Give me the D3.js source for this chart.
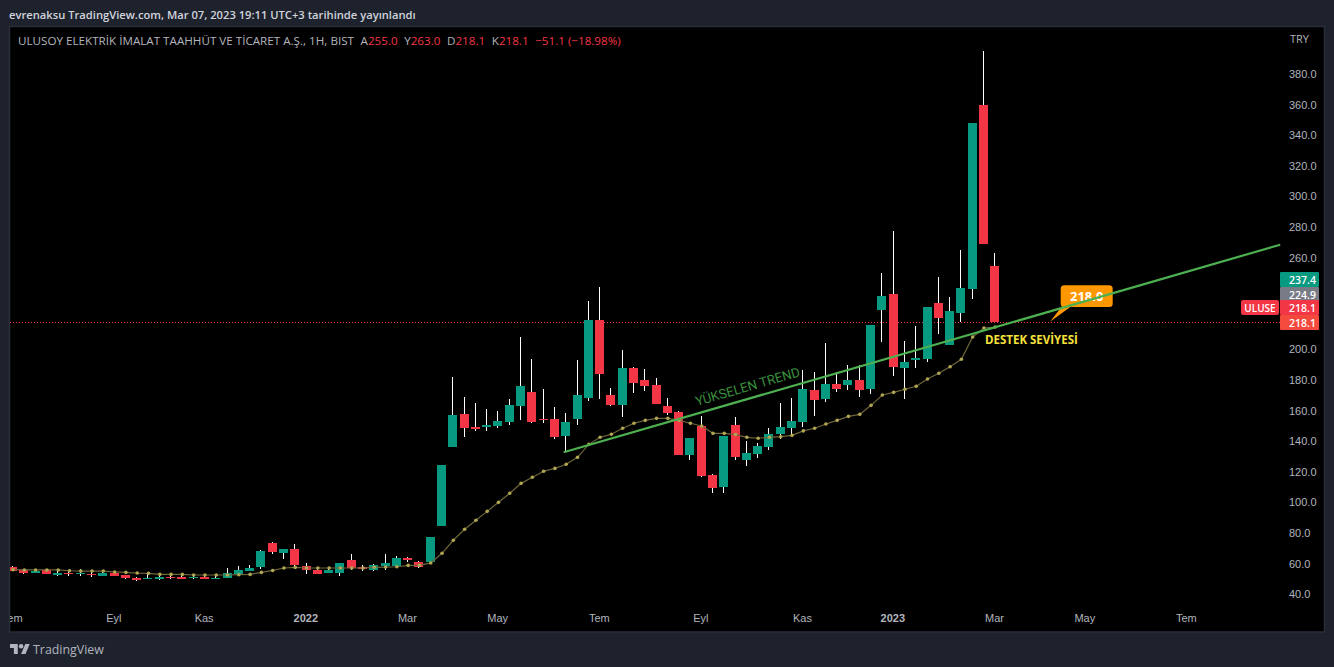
<!DOCTYPE html>
<html lang="tr">
<head>
<meta charset="utf-8">
<title>ULUSOY ELEKTRİK haftalık grafik</title>
<script src="https://cdn.jsdelivr.net/npm/d3@7/dist/d3.min.js"></script>
<style>
  html, body { margin: 0; padding: 0; background: #1e222d; overflow: hidden; }
  svg { display: block; font-family: "Open Sans", "Noto Sans", sans-serif; }
  .tick line, .domain { display: none; }
</style>
</head>
<body>
<div id="chart"></div>
<script>
// Weekly candles, oldest first
const opens = [57.8,56.3,54.1,56.3,52.8,54.1,53.4,53.4,52.1,54.1,52.8,50.8,50.2,50.2,51.5,51.5,50.8,51.5,50.2,50.8,53.4,55.4,58.0,73.7,67.2,69.8,58.7,56.1,54.1,54.1,62.6,58.0,56.1,58.7,58.7,63.9,61.3,61.3,84.8,136.5,158.1,149.6,149.6,150.2,152.8,163.3,172.4,154.8,154.8,143.7,154.8,168.5,219.5,170.5,164.0,188.1,180.3,177.0,163.3,159.4,131.3,150.2,118.2,110.3,150.9,128.0,131.9,136.5,145.0,148.9,152.8,173.8,167.9,177.7,177.0,180.3,174.4,226.1,236.5,188.1,193.4,194.0,230.6,203.2,224.1,239.7,360.0,255.0];
const highs = [58.7,56.7,55.6,56.5,56.1,56.1,56.7,56.1,54.5,54.8,52.8,51.5,54.8,53.4,53.4,53.4,52.8,53.4,52.8,57.4,58.7,59.3,69.1,74.4,69.8,73.1,60.6,57.4,58.0,60.6,66.5,59.3,60.0,66.5,65.2,64.6,61.9,77.6,124.7,182.3,169.2,165.3,161.3,160.0,167.9,208.4,194.0,174.4,162.6,158.7,193.4,231.9,241.1,175.1,199.9,188.8,187.5,181.6,168.5,160.0,142.4,156.8,118.8,143.7,156.1,140.4,139.1,148.9,165.3,168.5,186.8,185.5,204.5,185.5,190.1,190.1,216.2,250.2,277.6,205.8,215.6,228.0,247.6,234.6,265.2,348.2,395.3,263.0];
const lows = [55.4,53.4,54.0,53.4,52.1,52.1,52.1,51.5,52.1,52.1,50.2,48.9,50.2,49.5,50.2,50.2,50.2,50.2,50.2,50.8,52.1,55.4,56.7,66.5,63.3,56.7,53.4,53.4,54.1,52.1,56.1,55.4,55.4,56.1,57.4,61.3,57.4,60.0,84.8,136.5,143.0,147.0,147.0,148.9,150.9,154.1,152.2,152.2,141.7,133.2,150.9,166.6,167.9,163.3,156.1,171.8,173.1,164.6,157.4,131.3,128.0,116.9,106.4,106.4,128.0,124.1,129.3,134.5,141.7,143.7,149.6,156.8,165.9,172.4,173.8,169.2,171.1,205.1,182.9,167.9,188.1,192.1,210.4,203.2,218.0,233.2,269.2,218.1];
const closes = [55.4,54.1,55.4,53.4,54.1,53.4,54.1,52.8,54.1,52.1,50.8,49.7,50.8,51.5,50.8,50.2,51.5,50.2,50.8,54.1,56.1,57.4,68.5,67.8,69.8,59.3,56.1,53.4,56.1,60.6,57.4,56.7,59.3,60.6,63.9,62.6,58.0,77.6,124.7,157.4,148.9,148.3,150.9,153.5,164.0,176.4,152.8,154.1,143.0,152.8,170.5,219.5,184.2,164.0,188.1,178.3,176.4,164.6,158.7,131.3,142.4,117.5,109.7,143.7,130.0,132.6,137.1,145.0,149.6,153.5,174.4,167.2,177.7,174.4,180.3,173.8,216.2,235.2,188.8,192.1,194.7,228.0,220.8,225.4,240.4,348.2,269.2,218.1];

// Moving average drawn over the candles
const movingAverage = [56.3,56.1,56.1,56.1,56.1,55.6,55.4,55.4,55.4,54.8,54.5,54.1,53.9,53.2,53.2,53.2,52.8,52.8,52.8,52.8,53.0,53.2,54.5,55.8,57.4,57.8,57.4,57.4,57.4,57.4,57.4,57.4,57.8,58.0,58.2,59.1,59.1,60.7,67.0,75.5,82.7,88.6,94.4,100.3,106.2,112.7,116.7,120.6,122.5,125.2,129.7,138.2,142.8,144.8,148.7,152.0,153.9,155.2,155.2,153.9,152.0,150.2,145.4,145.4,144.6,142.8,142.2,142.8,143.2,144.1,147.0,148.7,151.5,153.9,156.5,157.8,163.7,170.5,172.2,174.2,176.2,180.9,184.7,188.9,193.8,208.4,214.2,214.9];

// Axis ticks
const priceTicks = [40,60,80,100,120,140,160,180,200,220,240,260,280,300,320,340,360,380];
const timeTickBars = [0,9,17,26,35,43,52,61,70,78,87,95,104];
const timeTickLabels = ["Tem","Eyl","Kas","2022","Mar","May","Tem","Eyl","Kas","2023","Mar","May","Tem"];
const yearLabels = ["2022","2023"];

// Drawing tools: trend line endpoints as [bar, price], and the price callout
const trendBars = [48.9, 112.2];
const trendPrices = [133.2, 268.5];
const lastPrice = 218.1;
const calloutBar = 91.9;
const calloutPrice = 218.0;

// Price tags stacked on the right scale
const tagTexts = ["237.4","224.9","218.1","218.1"];
const tagColors = ["#089981","#787b86","#f23645","#f44a3e"];

const W = 1334, H = 667;
const UP = "#089981", DOWN = "#f23645";
const AXIS_TEXT = "#b2b5be";

const x = d3.scaleLinear().domain([0, 100]).range([12.52, 1141.52]);
const y = d3.scaleLinear().domain([40, 380]).range([594.6, 74.4]);

const svg = d3.select("#chart").append("svg").attr("width", W).attr("height", H);

svg.append("defs").append("clipPath").attr("id", "plotClip")
  .append("rect").attr("x", 10).attr("y", 27).attr("width", 1314).attr("height", 605);

// Panel and border
svg.append("rect").attr("width", W).attr("height", H).attr("fill", "#1e222d");
svg.append("rect").attr("x", 9.5).attr("y", 26.5).attr("width", 1315).attr("height", 605.5)
  .attr("fill", "#000").attr("stroke", "#2a2e39").attr("stroke-width", 1.5);

// Header and footer
svg.append("text").attr("x", 9).attr("y", 19).attr("fill", "#d1d4dc")
  .attr("font-size", 11.2).attr("font-weight", 600)
  .text("evrenaksu TradingView.com, Mar 07, 2023 19:11 UTC+3 tarihinde yayınlandı");

const logo = svg.append("g").attr("transform", "translate(10,641.8) scale(0.555)").attr("fill", "#b2b5be");
logo.append("path").attr("d", "M14 22H7V11H0V4h14v18zM28 22h-8l7.5-18h8L28 22z");
logo.append("circle").attr("cx", 20).attr("cy", 8).attr("r", 4);
svg.append("text").attr("x", 33).attr("y", 654).attr("fill", "#b2b5be")
  .attr("font-size", 12.4).text("TradingView");

const plot = svg.append("g").attr("clip-path", "url(#plotClip)");

// Last price level
plot.append("line")
  .attr("x1", 10).attr("x2", 1280)
  .attr("y1", Math.round(y(lastPrice)) + 0.5).attr("y2", Math.round(y(lastPrice)) + 0.5)
  .attr("stroke", DOWN).attr("stroke-width", 1).attr("stroke-dasharray", "1 2");

// Candles
const bars = d3.range(opens.length);
const barX = k => Math.floor(x(k));
plot.append("g").attr("shape-rendering", "crispEdges").selectAll("rect")
  .data(bars).join("rect")
  .attr("x", barX).attr("width", 1)
  .attr("y", k => y(highs[k]))
  .attr("height", k => y(lows[k]) - y(highs[k]))
  .attr("fill", "#fff");
plot.append("g").attr("shape-rendering", "crispEdges").selectAll("rect")
  .data(bars).join("rect")
  .attr("x", k => barX(k) - 4).attr("width", 9)
  .attr("y", k => y(Math.max(opens[k], closes[k])))
  .attr("height", k => Math.max(1, Math.abs(y(opens[k]) - y(closes[k]))))
  .attr("fill", k => closes[k] >= opens[k] ? UP : DOWN);

// Moving average with a marker on every bar
const maLine = d3.line().x(k => x(k) + 0.5).y(k => y(movingAverage[k]));
plot.append("path").attr("d", maLine(bars)).attr("fill", "none")
  .attr("stroke", "#6e6538").attr("stroke-width", 1.2);
plot.append("g").selectAll("circle").data(bars).join("circle")
  .attr("cx", k => x(k) + 0.5).attr("cy", k => y(movingAverage[k])).attr("r", 1.8)
  .attr("fill", "#b0a552");

// Callout with its pointer, kept under the trend line
const cx0 = 1060.7, cy0 = 285.3, cw = 52, ch = 21.7;
const tip = [x(calloutBar), y(calloutPrice) - 0.5];
plot.append("path").attr("fill", "#ff9800")
  .attr("d", `M${cx0 + 1.5},${cy0 + ch - 1}L${tip[0]},${tip[1]}L${cx0 + 11},${cy0 + ch - 1}Z`);
plot.append("rect").attr("x", cx0).attr("y", cy0).attr("width", cw).attr("height", ch).attr("rx", 3.5)
  .attr("fill", "#ff9800");
plot.append("text").attr("x", cx0 + cw / 2).attr("y", cy0 + 15.5).attr("text-anchor", "middle")
  .attr("fill", "#fff").attr("font-size", 13).attr("font-weight", 700)
  .text(calloutPrice.toFixed(1));

// Trend line
plot.append("line")
  .attr("x1", x(trendBars[0])).attr("y1", y(trendPrices[0]))
  .attr("x2", x(trendBars[1])).attr("y2", y(trendPrices[1]))
  .attr("stroke", "#4caf50").attr("stroke-width", 2.2).attr("stroke-linecap", "round");

// Annotations
const trendAngle = Math.atan2(y(trendPrices[1]) - y(trendPrices[0]), x(trendBars[1]) - x(trendBars[0])) * 180 / Math.PI;
plot.append("text").attr("text-anchor", "middle")
  .attr("transform", `translate(749,391) rotate(${trendAngle})`)
  .attr("fill", "#388e3c").attr("font-family", "Roboto").attr("font-size", 13.2).text("YÜKSELEN TREND");
plot.append("text").attr("x", 985).attr("y", 344).attr("fill", "#f7e23b")
  .attr("font-size", 11.5).attr("font-weight", 700).text("DESTEK SEVİYESİ");

// Legend line
const legend = plot.append("text").attr("x", 18).attr("y", 45).attr("font-size", 11.65).attr("fill", AXIS_TEXT);
legend.append("tspan").text("ULUSOY ELEKTRİK İMALAT TAAHHÜT VE TİCARET A.Ş., 1H, BIST");
[["A","255.0"],["Y","263.0"],["D","218.1"],["K","218.1"]].forEach(([label, value]) => {
  legend.append("tspan").attr("dx", 6.6).text(label);
  legend.append("tspan").attr("fill", DOWN).text(value);
});
legend.append("tspan").attr("dx", 6.6).attr("fill", DOWN).text("−51.1 (−18.98%)");

// Axes
const priceAxis = d3.axisRight(y).tickValues(priceTicks).tickSize(0).tickPadding(0).tickFormat(d3.format(".1f"));
const pa = svg.append("g").attr("transform", "translate(1289,-0.4)").call(priceAxis);
pa.selectAll("text").attr("fill", AXIS_TEXT).attr("font-size", 11).attr("font-family", null);

svg.append("text").attr("x", 1290).attr("y", 43).attr("fill", AXIS_TEXT).attr("font-size", 11).text("TRY");

const timeAxis = d3.axisBottom(x).tickValues(timeTickBars).tickSize(0).tickPadding(0)
  .tickFormat((d, i) => timeTickLabels[i]);
const ta = plot.append("g").attr("transform", "translate(-0.8,614.5)").call(timeAxis);
ta.selectAll("text").attr("fill", AXIS_TEXT).attr("font-size", 11).attr("font-family", null)
  .attr("font-weight", (d, i) => yearLabels.includes(timeTickLabels[i]) ? 600 : 400);

// Right-scale price tags
const tagTops = [272, 287, 300, 315];
const tagH = [15, 14, 15, 15];
const tags = svg.append("g").selectAll("g").data(tagTexts).join("g");
tags.append("rect").attr("x", 1280).attr("width", 39)
  .attr("y", (d, i) => tagTops[i]).attr("height", (d, i) => tagH[i])
  .attr("rx", 1).attr("fill", (d, i) => tagColors[i]);
tags.append("text").attr("x", 1302.5).attr("text-anchor", "middle")
  .attr("y", (d, i) => tagTops[i] + 11.5).attr("fill", "#fff")
  .attr("font-size", 10.5).attr("font-weight", 600).text(d => d);

svg.append("rect").attr("x", 1241).attr("y", 300).attr("width", 38).attr("height", 15).attr("rx", 2).attr("fill", DOWN);
svg.append("text").attr("x", 1260).attr("y", 311.5).attr("text-anchor", "middle").attr("fill", "#fff")
  .attr("font-size", 10).attr("font-weight", 600).text("ULUSE");
</script>
</body>
</html>
